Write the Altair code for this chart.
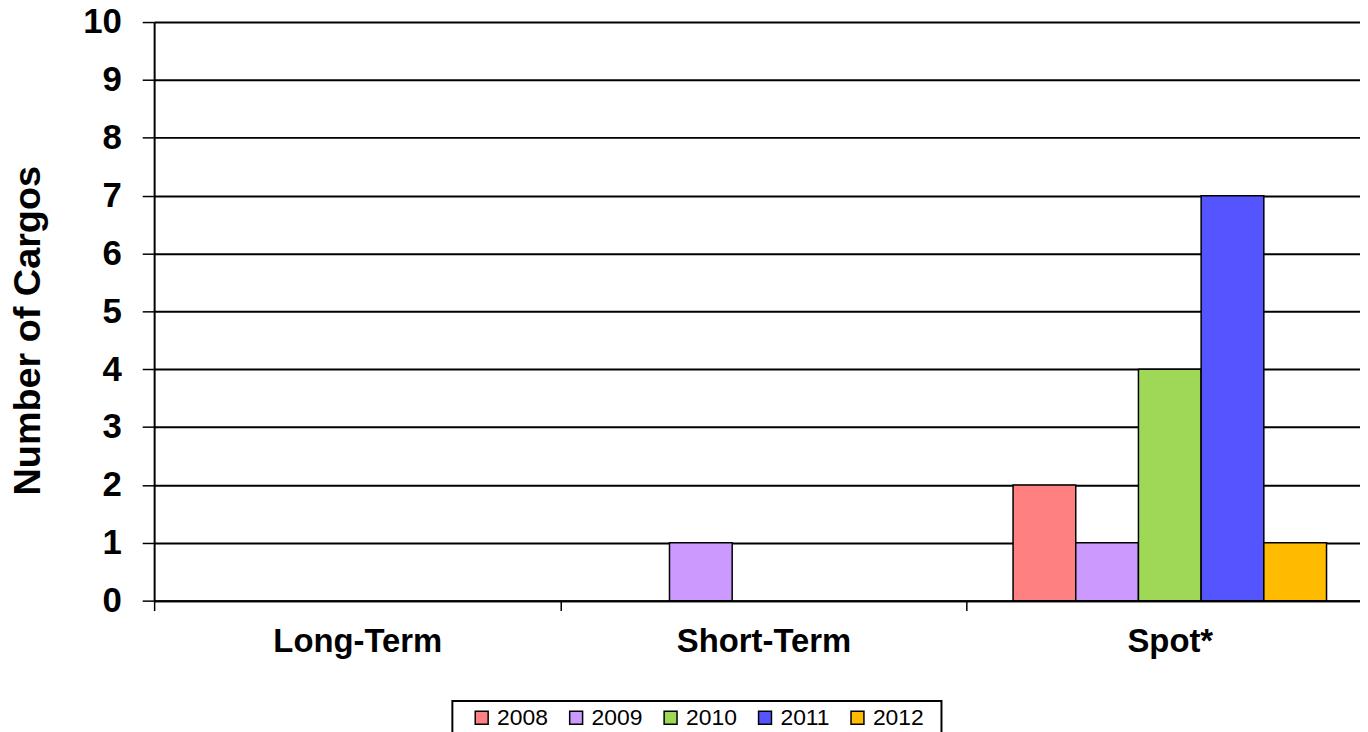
import altair as alt
import pandas as pd

categories = ["Long-Term", "Short-Term", "Spot*"]
years = ["2008", "2009", "2010", "2011", "2012"]
long_term = [0, 0, 0, 0, 0]
short_term = [0, 1, 0, 0, 0]
spot = [2, 1, 4, 7, 1]
colors = ["#FF8080", "#CC99FF", "#9FD856", "#5555FF", "#FFBB00"]

rows = []
for cat, vals in zip(categories, [long_term, short_term, spot]):
    for y, v in zip(years, vals):
        rows.append({"type": cat, "year": y, "cargos": v})
df = pd.DataFrame(rows)

FONT = "Liberation Sans"

chart = alt.Chart(df).transform_filter("datum.cargos > 0").mark_bar(
    stroke="black", strokeWidth=1.5
).encode(
    x=alt.X("type:N", sort=categories,
            scale=alt.Scale(domain=categories, paddingInner=0, paddingOuter=0),
            axis=alt.Axis(title=None, labelAngle=0, labelFont=FONT, labelFontSize=33,
                          labelFontWeight="bold", labelColor="black", labelBaseline="alphabetic",
                          labelPadding=41, tickSize=10, tickBand="extent", tickColor="black",
                          tickWidth=1.5, domainColor="black", domainWidth=2, grid=False)),
    xOffset=alt.XOffset("year:N", sort=years,
                        scale=alt.Scale(domain=years, paddingInner=0, paddingOuter=0.74)),
    y=alt.Y("cargos:Q",
            scale=alt.Scale(domain=[0, 10], nice=False),
            axis=alt.Axis(title="Number of Cargos", values=list(range(0, 11)),
                          labelFont=FONT, labelFontSize=35, labelFontWeight="bold",
                          labelColor="black", labelPadding=21, tickSize=12, tickColor="black",
                          tickWidth=1.5, domainColor="black", domainWidth=2,
                          gridColor="black", gridWidth=2, gridOpacity=1,
                          titleFont=FONT, titleFontSize=38, titleFontWeight="bold",
                          titleColor="black", titleX=-115, titleY=310, titleAngle=270,
                          titleBaseline="alphabetic", titleAlign="center")),
    color=alt.Color("year:N", sort=years,
                    scale=alt.Scale(domain=years, range=colors),
                    legend=alt.Legend(title=" ", titleOrient="left", titlePadding=13,
                                      orient="none", legendX=300, legendY=683,
                                      direction="horizontal", columns=5, columnPadding=16,
                                      symbolType="square", symbolSize=169,
                                      symbolStrokeColor="black", symbolStrokeWidth=1.5,
                                      symbolOpacity=1,
                                      labelExpr="datum.label == '2012' ? '2012\u00a0\u00a0\u200b' : datum.label",
                                      labelFont=FONT, labelFontSize=23, labelColor="black",
                                      labelOffset=4, padding=5,
                                      strokeColor="black", fillColor="white")),
).properties(
    width=1226, height=582,
    autosize=alt.AutoSizeParams(type="none"),
    padding={"left": 147, "top": 12, "right": -13, "bottom": 130},
).configure_view(strokeWidth=0).configure_legend(strokeWidth=2)

chart.save("out.html", embed_options={"renderer": "svg", "actions": False})
